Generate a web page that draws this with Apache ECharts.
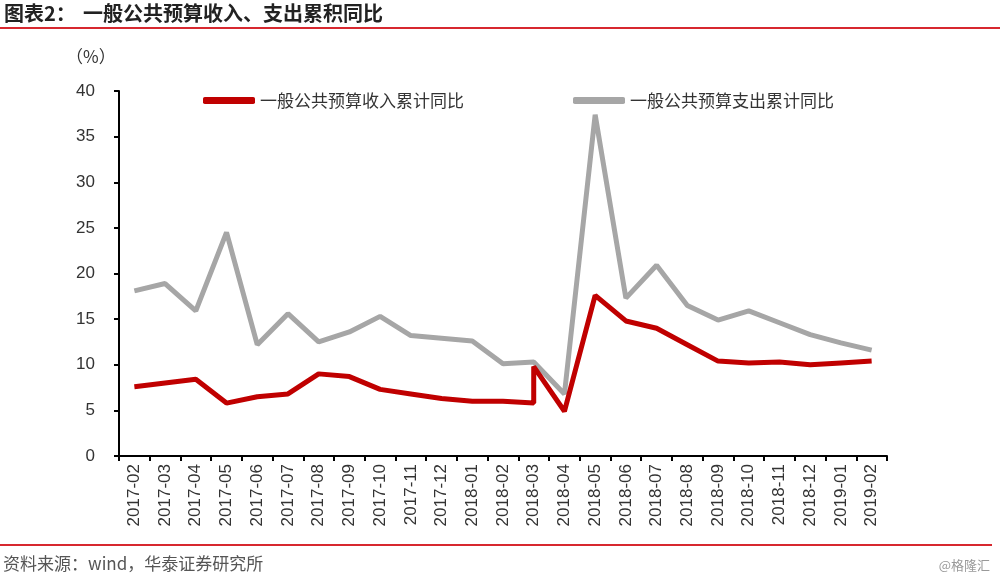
<!DOCTYPE html>
<html>
<head>
<meta charset="utf-8">
<script src="https://cdn.jsdelivr.net/npm/echarts@6/dist/echarts.min.js"></script>
<style>
  html, body { margin: 0; padding: 0; background: #fff; }
  #chart { width: 1000px; height: 582px; }
</style>
</head>
<body>
<div id="chart"></div>
<script>
const categories = ['2017-02','2017-03','2017-04','2017-05','2017-06','2017-07','2017-08','2017-09','2017-10','2017-11','2017-12','2018-01','2018-02','2018-03','2018-04','2018-05','2018-06','2018-07','2018-08','2018-09','2018-10','2018-11','2018-12','2019-01','2019-02'];
const revenueYoY = [7.6, 8.0, 8.4, 5.8, 6.5, 6.8, 9.0, 8.7, 7.3, 6.8, 6.3, 6.0, 6.0, 9.8, 4.9, 17.6, 14.8, 14.0, 12.2, 10.4, 10.2, 10.3, 10.0, 10.2, 10.4];
// revenue line drops to this value at 2018-03 before jumping (revised series)
const revenueBreak = ['2018-03', 5.8];
const expenditureYoY = [18.1, 18.9, 15.9, 24.5, 12.2, 15.6, 12.5, 13.6, 15.3, 13.2, 12.9, 12.6, 10.1, 10.3, 6.8, 37.4, 17.3, 20.9, 16.5, 14.9, 15.9, 14.6, 13.3, 12.4, 11.6];
const yTicks = { min: 0, max: 40, interval: 5 };
const seriesNames = ['一般公共预算收入累计同比', '一般公共预算支出累计同比'];

const revenueData = [];
categories.forEach((c, i) => {
  if (c === revenueBreak[0]) revenueData.push([revenueBreak[0], revenueBreak[1]]);
  revenueData.push([c, revenueYoY[i]]);
});
const expenditureData = categories.map((c, i) => [c, expenditureYoY[i]]);

const RED = '#c00000';
const GRAY = '#a6a6a6';
const cjk = '"Noto Sans CJK SC", "Noto Sans", sans-serif';
const latin = '"Liberation Sans", Arial, sans-serif';

const chart = echarts.init(document.getElementById('chart'), null, { renderer: 'canvas' });
chart.setOption({
  animation: false,
  backgroundColor: '#fff',
  grid: { left: 119, right: 113, top: 91, bottom: 126, containLabel: false },
  graphic: [
    { type: 'text', left: 4, top: 3, style: { text: '图表2：', font: 'bold 20px ' + cjk, fill: '#222' } },
    { type: 'text', left: 83, top: 3, style: { text: '一般公共预算收入、支出累积同比', font: 'bold 20px ' + cjk, fill: '#222' } },
    { type: 'rect', shape: { x: 0, y: 27, width: 1000, height: 2 }, style: { fill: '#d7282f' } },
    { type: 'rect', shape: { x: 0, y: 544, width: 992, height: 2 }, style: { fill: '#d7282f' } },
    { type: 'text', left: 3, top: 555, style: { text: '资料来源：wind，华泰证券研究所', font: '17px ' + cjk, fill: '#555' } },
    { type: 'text', right: 10, top: 559, style: { text: '@格隆汇', font: '13px ' + cjk, fill: '#999' } },
    { type: 'text', left: 66, top: 48, style: { text: '（%）', font: '17px ' + cjk, fill: '#333' } }
  ],
  legend: [
    { data: [seriesNames[0]], left: 203, top: 92, padding: 0, itemWidth: 52, itemHeight: 7, icon: 'roundRect',
      textStyle: { fontFamily: cjk, fontSize: 17, color: '#333' }, itemGap: 6 },
    { data: [seriesNames[1]], left: 573, top: 92, padding: 0, itemWidth: 52, itemHeight: 7, icon: 'roundRect',
      textStyle: { fontFamily: cjk, fontSize: 17, color: '#333' }, itemGap: 6 }
  ],
  xAxis: {
    type: 'category',
    data: categories,
    boundaryGap: true,
    axisLine: { lineStyle: { color: '#000', width: 2 } },
    axisTick: { show: true, alignWithLabel: false, length: 5, lineStyle: { color: '#000', width: 2 } },
    axisLabel: { rotate: 90, interval: 0, margin: 8, fontFamily: latin, fontSize: 17, color: '#333' },
    splitLine: { show: false }
  },
  yAxis: {
    type: 'value',
    min: yTicks.min, max: yTicks.max, interval: yTicks.interval,
    axisLine: { show: true, lineStyle: { color: '#000', width: 2 } },
    axisTick: { show: true, length: 5, lineStyle: { color: '#000', width: 2 } },
    axisLabel: { margin: 24, fontFamily: latin, fontSize: 17, color: '#333' },
    splitLine: { show: false }
  },
  series: [
    { name: seriesNames[0], type: 'line', data: revenueData, showSymbol: false, symbol: 'none',
      lineStyle: { color: RED, width: 5 }, itemStyle: { color: RED }, z: 3 },
    { name: seriesNames[1], type: 'line', data: expenditureData, showSymbol: false, symbol: 'none',
      lineStyle: { color: GRAY, width: 5 }, itemStyle: { color: GRAY }, z: 2 }
  ]
});
</script>
</body>
</html>
